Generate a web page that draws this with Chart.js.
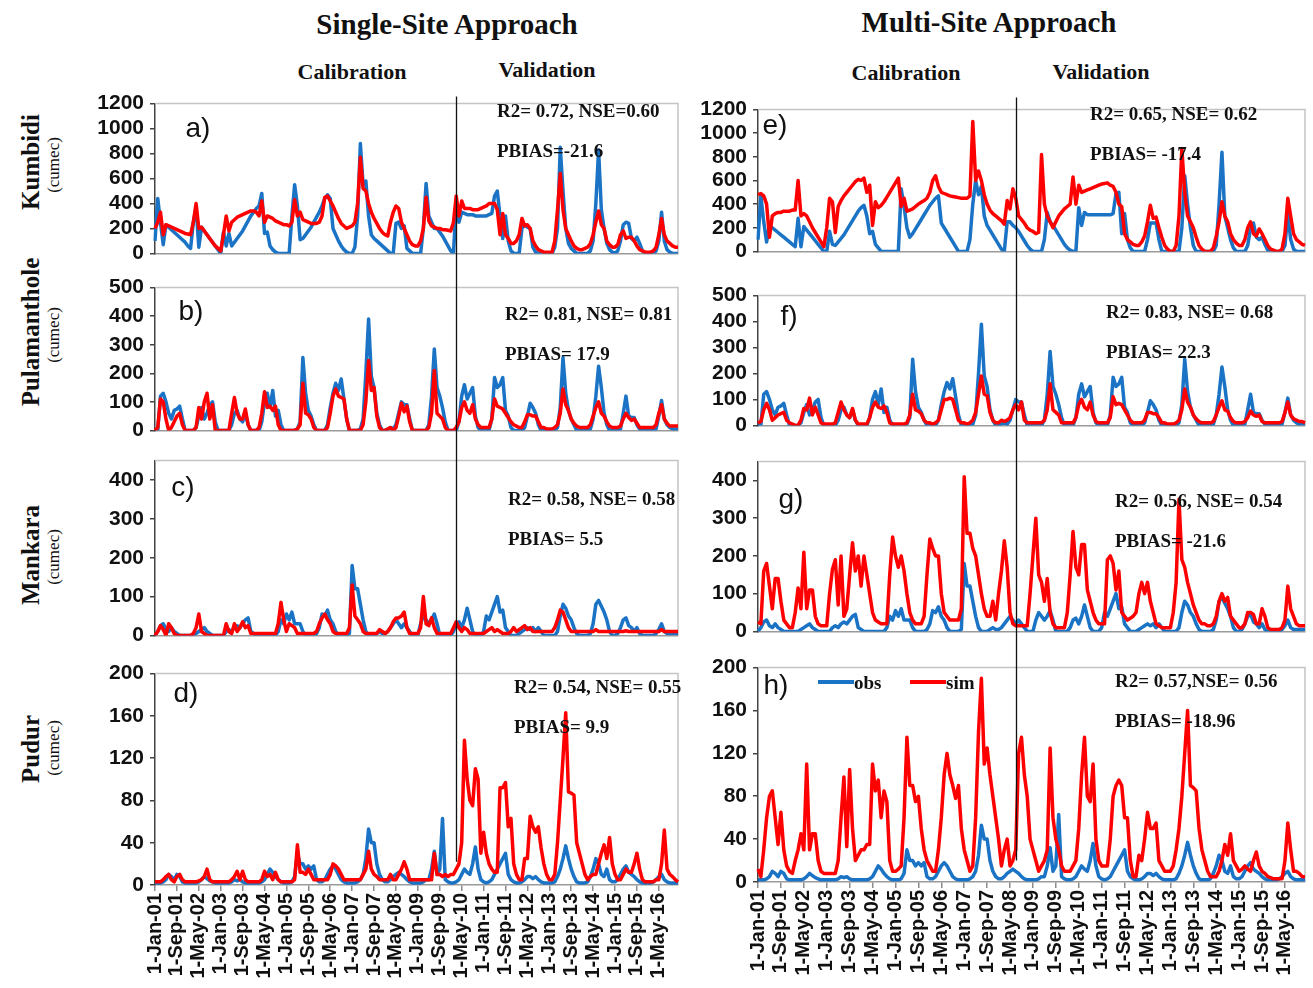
<!DOCTYPE html>
<html>
<head>
<meta charset="utf-8">
<script src="https://cdn.jsdelivr.net/npm/chart.js@4.4.1/dist/chart.umd.min.js"></script>
<style>
html, body { margin: 0; padding: 0; overflow: hidden; background: #fff; }
body { width: 1313px; height: 988px; position: relative; font-family: "Liberation Serif", "Times New Roman", serif; }
canvas { position: absolute; }
.t { position: absolute; white-space: nowrap; color: #111; line-height: 1; }
.c { transform: translate(-50%, -50%); }
.l { transform: translateY(-50%); }
.r { transform: translate(-50%, -50%) rotate(-90deg); }
.hd { font-weight: bold; font-size: 29px; }
.sub { font-weight: bold; font-size: 22px; }
.st { font-weight: bold; font-size: 19px; }
.site { font-weight: bold; font-size: 25px; }
.unit { font-size: 17px; }
.pl { font-family: "Liberation Sans", Arial, sans-serif; font-size: 28px; }
.lg { position: absolute; height: 4px; }
</style>
</head>
<body>

<div class="t c hd" style="left:447px;top:24px">Single-Site Approach</div>
<div class="t c hd" style="left:989px;top:22px">Multi-Site Approach</div>
<div class="t c sub" style="left:352px;top:72px">Calibration</div>
<div class="t c sub" style="left:547px;top:70px">Validation</div>
<div class="t c sub" style="left:906px;top:73px">Calibration</div>
<div class="t c sub" style="left:1101px;top:72px">Validation</div>

<div class="t r site" style="left:30px;top:162px">Kumbidi</div>
<div class="t r unit" style="left:53px;top:165px">(cumec)</div>
<div class="t r site" style="left:30px;top:332px">Pulamanthole</div>
<div class="t r unit" style="left:53px;top:335px">(cumec)</div>
<div class="t r site" style="left:30px;top:555px">Mankara</div>
<div class="t r unit" style="left:53px;top:557px">(cumec)</div>
<div class="t r site" style="left:30px;top:749px">Pudur</div>
<div class="t r unit" style="left:53px;top:748px">(cumec)</div>

<script>
// axis text
const tickLabels = ["1-Jan-01", "1-Sep-01", "1-May-02", "1-Jan-03", "1-Sep-03", "1-May-04",
  "1-Jan-05", "1-Sep-05", "1-May-06", "1-Jan-07", "1-Sep-07", "1-May-08",
  "1-Jan-09", "1-Sep-09", "1-May-10", "1-Jan-11", "1-Sep-11", "1-May-12",
  "1-Jan-13", "1-Sep-13", "1-May-14", "1-Jan-15", "1-Sep-15", "1-May-16"];
const monthNames = ["Jan", "Feb", "Mar", "Apr", "May", "Jun", "Jul", "Aug", "Sep", "Oct", "Nov", "Dec"];
const categories = [];
for (let y = 1; y <= 16; y++) {
  for (let m = 0; m < 12; m++) categories.push("1-" + monthNames[m] + "-" + String(y).padStart(2, "0"));
}

// calibration / validation split (category index)
const splitSingle = 110;
const splitMulti = 90;

// Kumbidi
const kumbidiObsSingle = [
  100,440,250,70,230,210,190,170,150,130,110,90,
  60,40,250,370,50,210,180,150,120,90,60,30,
  0,170,60,160,60,90,120,150,180,220,260,300,
  330,360,380,480,160,170,60,30,10,0,0,0,
  0,0,300,550,380,110,120,150,180,210,250,290,
  330,380,440,470,440,200,150,100,60,30,10,0,
  0,50,300,880,550,580,300,150,120,100,80,60,
  40,20,0,0,240,250,200,220,40,20,0,0,
  0,0,200,560,300,250,200,200,170,140,100,60,
  20,0,400,250,330,320,310,310,310,300,300,300,
  300,300,310,320,460,500,300,120,300,100,20,0,
  0,0,200,230,210,200,50,10,0,0,0,0,
  0,0,50,200,850,500,200,80,40,20,0,0,
  0,0,0,20,100,400,830,350,200,80,30,10,
  0,20,100,230,250,240,120,100,130,80,20,0,
  0,0,0,20,100,330,100,30,10,0,0,0
];
const kumbidiSimSingle = [
  200,250,330,150,230,220,210,200,190,180,170,160,
  155,150,250,400,200,210,180,150,120,90,60,40,
  20,150,300,180,250,270,290,300,310,320,330,340,
  340,330,300,420,250,300,290,280,260,250,240,230,
  230,220,250,430,300,330,270,260,250,240,240,240,
  250,300,450,460,420,380,330,280,240,220,200,210,
  220,250,400,770,520,500,400,330,280,240,200,170,
  150,140,250,330,380,360,250,200,150,100,70,60,
  60,100,200,450,260,220,210,200,200,190,190,185,
  180,250,460,300,420,360,360,360,350,350,350,360,
  370,380,400,400,400,350,150,320,150,120,80,80,
  100,150,280,220,230,200,100,60,30,20,10,10,
  10,10,100,350,640,350,200,150,100,60,40,30,
  30,40,50,80,150,250,340,230,200,100,70,50,
  50,70,150,180,120,130,130,100,60,30,20,10,
  10,10,20,50,150,280,150,100,80,60,50,50
];
const kumbidiObsMulti = [
  100,470,250,80,220,200,180,160,140,120,100,80,
  60,40,280,40,210,180,150,120,90,60,30,0,
  0,170,60,50,80,110,140,180,220,260,300,340,
  370,390,300,150,170,60,30,0,0,0,0,0,
  0,0,530,380,200,120,150,190,230,270,310,350,
  390,420,450,470,240,200,160,120,80,40,0,0,
  0,0,100,400,600,480,550,300,220,180,140,100,
  60,20,0,250,250,220,200,170,130,90,50,20,
  0,0,0,0,100,330,250,220,180,140,100,60,
  30,10,0,0,370,220,330,310,310,310,310,310,
  310,310,310,310,320,490,500,150,320,100,30,0,
  0,0,0,0,100,240,240,240,100,0,0,0,
  0,0,0,0,200,640,400,200,50,0,0,0,
  0,0,0,0,50,400,840,300,200,100,30,0,
  0,0,0,50,200,240,120,100,120,60,10,0,
  0,0,0,0,50,320,100,20,0,0,0,0
];
const kumbidiSimMulti = [
  480,490,470,400,120,300,320,330,330,340,340,340,
  350,350,600,300,320,300,250,200,160,120,80,40,
  200,450,420,160,380,430,470,500,530,560,590,610,
  600,620,500,560,220,420,370,390,420,460,500,540,
  580,620,380,450,340,350,360,380,400,415,430,450,
  500,600,640,550,500,490,480,470,465,460,455,450,
  450,450,470,1100,600,680,600,480,400,350,320,300,
  280,260,230,430,360,530,450,300,270,240,200,180,
  170,150,160,820,400,300,250,200,250,300,330,360,
  380,400,630,400,560,500,510,520,530,540,550,560,
  570,575,580,560,550,500,400,380,150,100,80,60,
  50,50,80,130,250,390,280,290,200,120,50,20,
  0,0,50,300,870,500,300,250,200,120,50,20,
  0,0,0,30,130,250,420,300,250,150,100,70,
  50,50,100,200,250,150,130,190,150,100,50,20,
  10,0,0,20,150,450,300,150,100,80,60,50
];

// Pulamanthole
const pulamantholeObs = [
  0,0,120,130,100,60,40,70,75,85,40,0,
  0,0,0,10,50,80,40,60,90,100,30,0,
  0,0,0,0,20,60,70,40,30,60,20,0,
  0,0,0,30,100,130,80,140,50,70,20,0,
  0,0,0,0,5,30,255,130,70,50,20,0,
  0,0,0,20,80,130,165,140,180,110,40,0,
  0,0,0,5,40,200,390,190,150,60,20,0,
  0,5,10,5,20,60,100,90,90,40,0,0,
  0,0,0,0,20,120,285,150,120,80,30,0,
  0,0,0,30,120,160,110,130,150,50,10,0,
  0,0,0,40,185,150,160,185,70,50,10,0,
  0,0,0,10,50,95,80,60,20,0,0,0,
  0,0,0,10,80,255,130,70,40,20,0,0,
  0,0,0,5,40,120,225,150,60,20,0,0,
  0,0,5,60,120,50,45,45,20,5,0,0,
  0,0,0,5,50,105,40,20,10,5,5,5
];
const pulamantholeSimSingle = [
  0,10,110,100,40,0,10,30,50,60,20,0,
  0,0,0,10,80,40,100,130,40,90,0,0,
  0,0,0,0,60,115,60,40,40,75,20,0,
  0,0,10,60,135,80,85,70,85,20,0,0,
  0,0,0,0,5,20,165,60,55,40,10,0,
  0,0,0,10,60,120,145,120,115,110,40,0,
  0,0,0,0,20,100,245,140,150,50,10,0,
  0,5,10,0,10,50,95,65,85,30,0,0,
  0,0,0,0,10,60,210,60,50,40,10,0,
  0,0,10,30,80,100,70,60,90,40,20,10,
  10,10,10,40,110,85,80,75,60,45,30,20,
  15,10,10,30,55,55,50,50,30,10,10,5,
  5,5,10,20,60,145,90,70,40,25,15,10,
  10,10,10,20,50,80,100,60,50,30,15,10,
  10,10,15,40,60,45,35,40,25,10,10,10,
  10,10,10,20,60,90,40,25,15,15,15,15
];
const pulamantholeSimMulti = [
  10,15,60,85,60,20,30,40,45,50,20,10,
  5,0,0,20,65,60,105,40,70,40,10,5,
  5,5,5,10,50,90,60,40,30,65,20,5,
  5,5,5,30,70,90,70,65,75,50,10,5,
  5,5,5,5,10,40,120,60,55,45,20,10,
  10,5,10,20,60,100,100,105,100,60,20,10,
  10,5,10,20,50,120,190,120,115,50,20,10,
  10,20,15,20,30,60,80,60,90,20,10,10,
  10,10,10,10,20,60,160,60,50,40,10,10,
  10,10,10,30,80,100,70,60,90,40,15,10,
  10,10,10,30,110,80,85,80,60,40,20,10,
  10,10,10,20,50,50,45,45,30,10,10,5,
  5,5,10,20,60,140,90,70,40,25,15,10,
  10,10,10,15,40,70,95,60,55,30,15,10,
  10,10,15,30,55,40,35,40,15,10,10,10,
  10,10,10,15,50,90,40,25,20,15,15,10
];

// Mankara
const mankaraObs = [
  0,10,25,30,15,10,20,10,5,0,0,0,
  0,0,0,5,10,15,20,10,5,0,0,0,
  0,0,10,15,10,20,25,20,30,40,45,10,
  5,0,0,0,0,0,0,0,0,10,40,30,
  55,40,60,30,30,30,10,0,0,0,0,5,
  20,55,50,65,40,30,10,0,0,0,0,5,
  180,120,120,80,40,10,0,0,0,5,10,5,
  5,10,20,30,40,30,20,30,20,10,0,0,
  0,30,50,40,30,40,55,30,0,0,0,0,
  0,10,30,35,20,40,70,40,10,0,0,0,
  10,50,40,60,80,100,60,65,20,10,0,0,
  0,5,10,15,20,15,20,10,20,10,0,0,
  0,0,0,10,50,80,70,50,40,20,5,0,
  0,0,0,5,30,80,90,75,60,40,10,0,
  0,5,20,40,45,25,20,10,20,5,0,0,
  0,0,0,5,15,30,10,5,5,5,5,5
];
const mankaraSimSingle = [
  0,10,25,15,0,30,20,5,0,0,0,0,
  0,0,5,20,55,10,5,0,0,0,0,0,
  0,0,30,10,5,30,10,20,35,20,25,5,
  5,5,5,5,5,5,5,5,5,30,85,40,
  10,30,25,20,5,5,5,5,5,5,5,10,
  30,45,55,40,30,10,5,5,5,5,5,20,
  130,50,40,30,10,5,5,5,5,5,15,10,
  5,10,20,35,45,45,50,60,20,5,5,5,
  5,20,100,30,25,45,20,5,5,5,5,5,
  5,20,35,20,10,20,15,5,5,5,5,5,
  5,10,15,20,10,15,10,5,5,5,10,20,
  10,15,20,25,15,20,10,10,10,10,10,10,
  10,10,20,40,65,60,40,20,10,10,10,10,
  10,10,10,10,10,15,10,10,10,10,10,10,
  10,10,10,10,12,10,10,10,10,10,10,10,
  10,10,10,10,10,15,10,10,10,10,10,10
];
const mankaraSimMulti = [
  25,20,160,180,120,60,140,140,80,30,20,10,
  10,50,115,60,210,60,110,110,40,20,15,15,
  15,100,165,190,70,200,40,60,150,235,160,200,
  120,200,150,100,50,30,25,20,20,20,150,250,
  200,170,200,160,100,50,30,20,20,20,40,150,
  245,220,200,200,100,50,40,30,30,30,30,60,
  410,260,260,220,200,150,100,60,40,40,80,30,
  100,160,240,170,50,20,15,15,15,15,15,100,
  200,300,150,130,80,140,50,20,10,10,10,10,
  50,150,265,170,150,230,230,110,80,50,30,20,
  20,20,190,200,180,110,160,50,40,30,35,40,
  50,100,130,100,130,80,50,20,15,10,10,10,
  10,50,130,350,190,170,130,100,70,50,30,20,
  20,15,15,20,40,80,100,80,90,40,30,20,
  10,10,20,50,50,45,20,20,60,40,10,5,
  5,5,5,10,30,120,60,40,20,15,15,15
];

// Pudur
const pudurObs = [
  2,2,2,3,5,10,8,5,10,8,3,2,
  2,2,2,2,3,5,8,6,4,3,2,2,
  2,2,2,2,3,5,4,5,3,2,2,2,
  2,2,2,3,5,10,15,12,8,5,3,2,
  2,2,3,8,30,20,20,15,18,15,18,5,
  3,3,5,10,15,18,15,10,5,3,2,2,
  2,2,3,5,10,25,53,40,40,20,10,5,
  3,3,5,8,10,12,10,8,5,3,2,2,
  2,2,3,5,5,15,32,10,15,63,5,3,
  2,2,3,5,10,15,12,10,20,36,15,5,
  3,2,3,5,10,15,20,25,30,10,5,3,
  2,2,3,5,8,8,6,8,5,3,2,2,
  2,2,3,8,15,25,37,25,15,8,3,2,
  2,2,3,8,15,25,20,10,8,15,5,3,
  3,5,10,15,18,12,10,8,5,3,2,2,
  2,2,3,5,8,10,5,3,2,2,2,2
];
const pudurSimSingle = [
  3,3,3,5,8,10,5,3,8,10,5,3,
  3,3,3,3,4,5,8,15,5,3,3,3,
  3,3,3,3,5,8,13,5,13,5,3,3,
  3,3,3,5,13,8,10,5,12,5,3,3,
  3,3,3,5,38,12,12,10,15,10,5,5,
  5,5,5,5,10,20,18,15,10,5,5,5,
  5,5,5,5,10,15,32,15,10,8,5,5,
  5,5,10,5,5,10,15,22,15,5,5,5,
  5,5,5,5,5,5,30,10,10,8,10,8,
  10,10,15,20,40,137,100,80,75,110,100,30,
  50,30,20,15,12,12,92,92,97,55,63,20,
  10,5,5,25,25,65,55,50,55,35,20,10,
  5,5,10,40,80,120,163,88,87,85,40,30,
  20,10,5,8,10,10,20,30,38,25,45,20,
  10,5,5,10,15,12,12,20,30,15,5,3,
  3,3,3,5,5,20,52,15,10,8,5,3
];
const pudurSimMulti = [
  12,5,30,60,80,85,60,35,65,30,15,10,
  8,20,30,45,30,110,30,45,45,20,10,8,
  8,8,8,8,20,60,98,33,105,50,20,25,
  30,30,35,35,110,85,95,60,85,75,20,10,
  10,12,15,60,135,90,90,75,80,50,30,20,
  15,10,10,30,60,100,120,100,90,78,90,50,
  30,20,10,15,60,140,190,110,125,100,80,60,
  40,15,30,40,15,20,30,120,135,100,80,40,
  30,20,10,15,20,30,125,60,40,30,15,10,
  10,10,15,20,50,100,135,80,75,110,40,20,
  15,15,15,40,80,90,95,90,60,60,20,5,
  5,25,20,40,65,50,50,55,20,15,10,10,
  10,15,30,50,80,120,160,90,88,85,50,30,
  20,10,5,5,5,10,20,35,25,45,20,15,
  10,12,15,12,10,20,28,15,10,8,5,4,
  3,3,3,3,20,55,30,10,10,8,5,5
];

const OBS = "#1a73c4";
const SIM = "#ff0000";
const Y_FONT = { family: "'Liberation Sans', Arial, sans-serif", weight: "bold", size: 21 };
const X_FONT = { family: "'Liberation Sans', Arial, sans-serif", weight: "bold", size: 20 };

// chart area placement of each panel
const panels = [
  { obs: kumbidiObsSingle, sim: kumbidiSimSingle, max: 1200, step: 200, top: 100, bottom: 260, col: 0 },
  { obs: pulamantholeObs, sim: pulamantholeSimSingle, max: 500, step: 100, top: 284, bottom: 437, col: 0 },
  { obs: mankaraObs, sim: mankaraSimSingle, max: 450, step: 100, top: 457, bottom: 642, col: 0 },
  { obs: pudurObs, sim: pudurSimSingle, max: 200, step: 40, top: 670, bottom: 885, col: 0, last: true },
  { obs: kumbidiObsMulti, sim: kumbidiSimMulti, max: 1200, step: 200, top: 106, bottom: 258, col: 1 },
  { obs: pulamantholeObs, sim: pulamantholeSimMulti, max: 500, step: 100, top: 292, bottom: 432, col: 1 },
  { obs: mankaraObs, sim: mankaraSimMulti, max: 450, step: 100, top: 458, bottom: 638, col: 1 },
  { obs: pudurObs, sim: pudurSimMulti, max: 200, step: 40, top: 664, bottom: 882, col: 1, last: true }
];
const cols = [{ left: 155, right: 678 }, { left: 758, right: 1305 }];

const framePlugin = {
  id: "frame",
  beforeDatasetsDraw(chart) {
    const a = chart.chartArea, ctx = chart.ctx;
    ctx.save();
    ctx.strokeStyle = "#c4c4c4";
    ctx.lineWidth = 1.5;
    ctx.beginPath();
    ctx.moveTo(a.left, a.top);
    ctx.lineTo(a.right, a.top);
    ctx.lineTo(a.right, a.bottom);
    ctx.stroke();
    ctx.restore();
  }
};

const yW = 95, padTop = 15, padR = 20;
const charts = panels.map(p => {
  const c = cols[p.col];
  const xH = p.last ? 106 : 12;
  const w = c.right - c.left + yW + padR;
  const h = padTop + (p.bottom - p.top) + xH;
  const cv = document.createElement("canvas");
  cv.width = w; cv.height = h;
  cv.style.left = (c.left - yW) + "px";
  cv.style.top = (p.top - padTop) + "px";
  cv.style.width = w + "px"; cv.style.height = h + "px";
  document.body.appendChild(cv);
  return new Chart(cv, {
    type: "line",
    data: {
      labels: categories,
      datasets: [
        { label: "sim", data: p.sim, borderColor: SIM, order: 0 },
        { label: "obs", data: p.obs, borderColor: OBS, order: 1 }
      ]
    },
    options: {
      responsive: false,
      animation: false,
      devicePixelRatio: 1,
      layout: { padding: { top: padTop, right: padR, left: 0, bottom: 0 } },
      plugins: { legend: { display: false }, tooltip: { enabled: false } },
      elements: { point: { radius: 0 }, line: { tension: 0, borderWidth: 3.5, borderJoinStyle: "round" } },
      scales: {
        x: {
          type: "category",
          offset: false,
          grid: { display: true, drawOnChartArea: false, drawTicks: !!p.last, tickLength: 6, color: "#8a8a8a", lineWidth: 1.5 },
          border: { display: true, color: "#9a9a9a", width: 1.5 },
          ticks: {
            display: !!p.last, autoSkip: false, maxRotation: 90, minRotation: 90, padding: 2,
            font: X_FONT, color: "#111",
            callback: (v, i) => (i % 8 === 0 ? tickLabels[i / 8] : null)
          },
          afterFit: s => { s.height = xH; }
        },
        y: {
          min: 0, max: p.max,
          ticks: {
            stepSize: p.step, autoSkip: false, includeBounds: false, font: Y_FONT, color: "#111", padding: 6,
            callback: v => String(v)
          },
          grid: { display: true, drawOnChartArea: false, drawTicks: true, tickLength: 5, color: "#444", lineWidth: 1.5 },
          border: { display: true, color: "#444", width: 1.5 },
          afterFit: s => { s.width = yW; }
        }
      }
    },
    plugins: [framePlugin]
  });
});

// panel letters and fit statistics
const letters = [["a)", 198, 128], ["b)", 191, 311], ["c)", 183, 487], ["d)", 186, 693],
  ["e)", 775, 125], ["f)", 789, 316], ["g)", 791, 499], ["h)", 776, 685]];
letters.forEach(([s, x, y]) => {
  const d = document.createElement("div");
  d.className = "t c pl"; d.textContent = s;
  d.style.left = x + "px"; d.style.top = y + "px";
  document.body.appendChild(d);
});
const stats = [
  ["R2= 0.72, NSE=0.60", "PBIAS=-21.6", 497, 110],
  ["R2= 0.81, NSE= 0.81", "PBIAS= 17.9", 505, 313],
  ["R2= 0.58, NSE= 0.58", "PBIAS= 5.5", 508, 498],
  ["R2= 0.54, NSE= 0.55", "PBIAS= 9.9", 514, 686],
  ["R2= 0.65, NSE= 0.62", "PBIAS= -17.4", 1090, 113],
  ["R2= 0.83, NSE= 0.68", "PBIAS= 22.3", 1106, 311],
  ["R2= 0.56, NSE= 0.54", "PBIAS= -21.6", 1115, 500],
  ["R2= 0.57,NSE= 0.56", "PBIAS= -18.96", 1115, 680]
];
stats.forEach(([a, b, x, y]) => {
  [[a, y], [b, y + 40]].forEach(([s, yy]) => {
    const d = document.createElement("div");
    d.className = "t l st"; d.textContent = s;
    d.style.left = x + "px"; d.style.top = yy + "px";
    document.body.appendChild(d);
  });
});

// legend in panel h
[["obs", OBS, 818], ["sim", SIM, 910]].forEach(([s, col, x]) => {
  const ln = document.createElement("div");
  ln.className = "lg"; ln.style.background = col;
  ln.style.left = x + "px"; ln.style.top = "680px"; ln.style.width = "36px";
  document.body.appendChild(ln);
  const d = document.createElement("div");
  d.className = "t l st"; d.textContent = s;
  d.style.left = (x + 36) + "px"; d.style.top = "682px";
  document.body.appendChild(d);
});

// calibration / validation divider lines
const ov = document.createElement("canvas");
ov.width = 1313; ov.height = 988;
ov.style.left = "0px"; ov.style.top = "0px";
document.body.appendChild(ov);
const octx = ov.getContext("2d");
function divider(topChart, botChart, idx, above, endVal) {
  const x = Math.round(topChart.canvas.offsetLeft + topChart.scales.x.getPixelForValue(idx)) + 0.5;
  const y0 = topChart.canvas.offsetTop + topChart.chartArea.top - above;
  const y1 = botChart.canvas.offsetTop + botChart.scales.y.getPixelForValue(endVal);
  octx.strokeStyle = "#111";
  octx.lineWidth = 1.3;
  octx.beginPath();
  octx.moveTo(x, y0);
  octx.lineTo(x, y1);
  octx.stroke();
}
divider(charts[0], charts[3], splitSingle, 7, 22);
divider(charts[4], charts[7], splitMulti, 12, 20);
</script>
</body>
</html>
